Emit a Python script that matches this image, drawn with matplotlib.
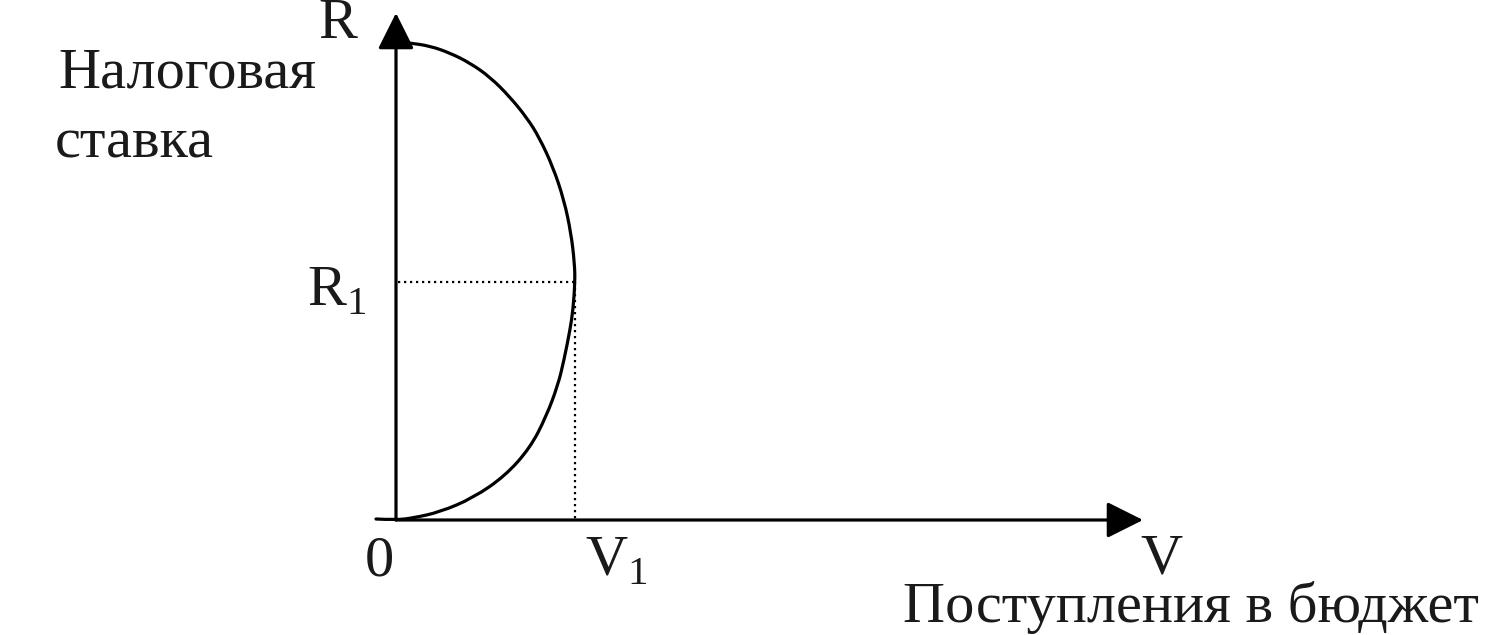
import matplotlib.pyplot as plt
from matplotlib.path import Path
from matplotlib.patches import PathPatch

## plt config
plt.rcParams['font.family'] = ['Liberation Serif', 'DejaVu Serif']
plt.rcParams['mathtext.fontset'] = 'custom'
plt.rcParams['mathtext.rm'] = 'Liberation Serif'

## data (revenue V vs tax rate R)
curve_v = [-20, 0, 17, 44, 77, 109, 134, 150, 162, 168, 174, 177, 179,
           178.5, 175, 168, 157, 143, 131, 114, 94, 74, 54, 34, 14, 0]
curve_r = [1, 0, 2, 8, 22, 44, 72, 103, 135, 160, 190, 210, 238,
           257, 287, 320, 353, 383, 402, 423, 443, 457, 467, 474, 477, 478]
v1 = 179
r1 = 238
v_max = 747
r_max = 507

label_r = 'Налоговая'
label_r2 = 'ставка'
label_v = 'Поступления в бюджет'

ink = '#1a1a1a'
fs = 42

## visualization
fig = plt.figure(figsize=(14.87, 6.35), dpi=100)
ax = fig.add_axes([0, 0, 1, 1])
ax.set_xlim(-396, 1091)
ax.set_ylim(-115, 520)
ax.axis('off')

# axes with arrows
arrow = dict(arrowstyle='-|>', mutation_scale=56, lw=2.3, color='black',
             shrinkA=0, shrinkB=0)
ax.annotate('', xy=(0, r_max), xytext=(0, 0), arrowprops=arrow)
ax.annotate('', xy=(v_max, 0), xytext=(0, 0), arrowprops=arrow)

# Laffer curve, smoothed through the read points (quadratic segments)
pts = list(zip(curve_v, curve_r))
verts = [pts[0]]
codes = [Path.MOVETO]
for i in range(1, len(pts) - 1):
    mid = ((pts[i][0] + pts[i + 1][0]) / 2, (pts[i][1] + pts[i + 1][1]) / 2)
    verts += [pts[i], mid]
    codes += [Path.CURVE3, Path.CURVE3]
verts.append(pts[-1])
codes.append(Path.LINETO)
ax.add_patch(PathPatch(Path(verts, codes), facecolor='none', edgecolor='black',
                       lw=2.3, capstyle='round'))

# dotted guides
ax.plot([2, v1], [r1, r1], color='black', lw=1.6, linestyle=(0, (1, 1.7)))
ax.plot([v1, v1], [r1, 0], color='black', lw=1.6, linestyle=(0, (1, 1.7)))

# labels
ax.text(-338, 432, label_r, fontsize=fs, color=ink, va='baseline')
ax.text(-341, 362, label_r2, fontsize=fs, color=ink, va='baseline')
ax.text(-78, 482, 'R', fontsize=fs, color=ink, va='baseline')
ax.text(-89, 215, r'R$_\mathregular{1}$', fontsize=fs, color=ink, va='baseline')
ax.text(-31, -55, '0', fontsize=fs, color=ink, va='baseline')
ax.text(189, -55, r'V$_\mathregular{1}$', fontsize=fs, color=ink, va='baseline')
ax.text(744, -53, 'V', fontsize=fs, color=ink, va='baseline')
ax.text(1083, -102, label_v, fontsize=fs, color=ink, va='baseline', ha='right')

plt.savefig('out.png', dpi=100)
